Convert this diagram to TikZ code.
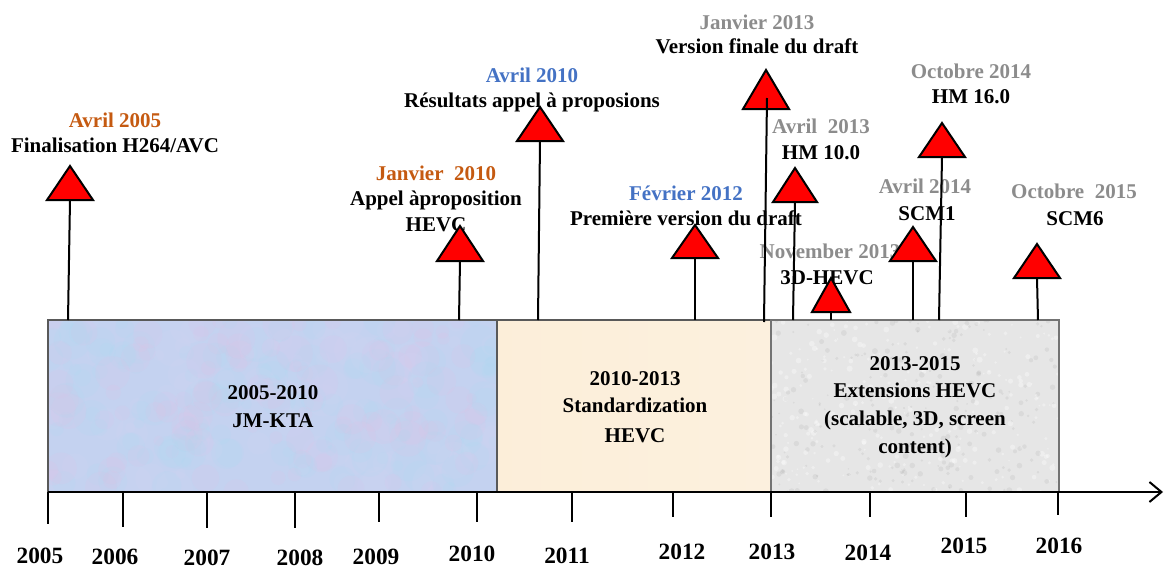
\documentclass[tikz,border=0pt]{standalone}
\usepackage{fontspec}
\setmainfont{Liberation Serif}
\usetikzlibrary{arrows.meta}
\definecolor{datebrown}{HTML}{C55A11}
\definecolor{dateblue}{HTML}{4472C4}
\definecolor{dategray}{HTML}{8C8C8C}
\definecolor{eraone}{RGB}{196,210,240}
\definecolor{eratwo}{RGB}{252,238,216}
\definecolor{erathree}{RGB}{230,230,230}
\definecolor{flagred}{HTML}{FF0000}
\begin{document}
\begin{tikzpicture}[x=0.75pt,y=-0.75pt,
  lbl/.style={font=\bfseries\fontsize{15.75}{18}\selectfont, anchor=base, inner sep=0pt},
  yearlbl/.style={font=\bfseries\fontsize{17.5}{20}\selectfont, anchor=base, inner sep=0pt},
  stem/.style={line width=1.5pt, black},
  tick/.style={line width=1.5pt, black},
  era/.style={draw=black!65, line width=0.8pt},
  flagstyle/.style={draw=black, line width=1.5pt, fill=flagred, line join=miter},
  pics/flag/.style args={#1/#2}{code={\path[flagstyle] (-#1,0) -- (0,-#2) -- (#1,0) -- cycle;}}
]
\useasboundingbox (0,0) rectangle (1165,568);

% ---- period boxes ----
\fill[eraone] (48,320) rectangle (497,492);
\begin{scope}
  \clip (48,320) rectangle (497,492);
  \pgfmathsetseed{11}
  \foreach \i in {1,...,320}{
    \pgfmathsetmacro\cx{48+449*rnd}
    \pgfmathsetmacro\cy{320+172*rnd}
    \pgfmathsetmacro\rr{5+14*rnd}
    \pgfmathsetmacro\kind{rnd}
    \ifdim\kind pt<0.3pt
      \fill[fill={rgb,255:red,232;green,190;blue,228}, opacity=0.13] (\cx,\cy) circle[radius=\rr];
    \else\ifdim\kind pt<0.65pt
      \fill[fill={rgb,255:red,170;green,220;blue,242}, opacity=0.13] (\cx,\cy) circle[radius=\rr];
    \else
      \fill[fill={rgb,255:red,214;green,214;blue,246}, opacity=0.13] (\cx,\cy) circle[radius=\rr];
    \fi\fi
  }
\end{scope}
\draw[era] (48,320) rectangle (497,492);

\shade[left color=eratwo!100!orange!90, right color=eratwo!60!white] (497,320) rectangle (771,492);
\fill[eratwo, opacity=0.6] (497,320) rectangle (771,492);
\draw[era] (497,320) rectangle (771,492);

\fill[erathree] (771,320) rectangle (1059,492);
\begin{scope}
  \clip (771,320) rectangle (1059,492);
  \pgfmathsetseed{23}
  \foreach \i in {1,...,500}{
    \pgfmathsetmacro\cx{771+288*rnd}
    \pgfmathsetmacro\cy{320+172*rnd}
    \pgfmathsetmacro\rr{0.8+2.2*rnd}
    \pgfmathsetmacro\kind{rnd}
    \ifdim\kind pt<0.5pt
      \fill[black, opacity=0.05] (\cx,\cy) circle[radius=\rr];
    \else
      \fill[white, opacity=0.35] (\cx,\cy) circle[radius=\rr];
    \fi
  }
\end{scope}
\draw[era, draw=black!55] (771,320) rectangle (1059,492);

% ---- texts inside the boxes ----
\node[lbl] (p1a) at (273,399) {2005-2010};
\node[lbl] (p1b) at (273,427) {JM-KTA};
\node[lbl] (p2a) at (635,385) {2010-2013};
\node[lbl] (p2b) at (635,412) {Standardization};
\node[lbl] (p2c) at (635,442) {HEVC};
\node[lbl] (p3a) at (915,370) {2013-2015};
\node[lbl] (p3b) at (915,397) {Extensions HEVC};
\node[lbl] (p3c) at (915,425) {(scalable, 3D, screen};
\node[lbl] (p3d) at (915,453) {content)};

% ---- time axis ----
\coordinate (axS) at (48,492);
\coordinate (axE) at (1163,492);
\draw[line width=2.2pt, -{Straight Barb[length=9pt,width=15pt,line width=1.5pt]}] (axS) -- (axE);

\foreach \x/\e [count=\k] in {48/524,123/527,207/528,295/528,379/522,477/522,572/522,673/517,771/517,870/517,966/517,1058/515}{
  \coordinate (tk\k) at (\x,492);
  \coordinate (te\k) at (\x,\e);
  \draw[tick] (tk\k) -- (te\k);
}

% ---- year labels ----
\node[yearlbl] (y2005) at (40,563) {2005};
\node[yearlbl] (y2006) at (115,564) {2006};
\node[yearlbl] (y2007) at (207,565) {2007};
\node[yearlbl] (y2008) at (300,565) {2008};
\node[yearlbl] (y2009) at (376,564) {2009};
\node[yearlbl] (y2010) at (472,561) {2010};
\node[yearlbl] (y2011) at (567,563) {2011};
\node[yearlbl] (y2012) at (682,559) {2012};
\node[yearlbl] (y2013) at (772,559) {2013};
\node[yearlbl] (y2014) at (868,560) {2014};
\node[yearlbl] (y2015) at (964,553) {2015};
\node[yearlbl] (y2016) at (1059,553) {2016};

% ---- milestone captions ----
\node[lbl, text=datebrown] (d1) at (115,127) {Avril 2005};
\node[lbl] (m1) at (115,152) {Finalisation H264/AVC};

\node[lbl, text=datebrown] (d2) at (436,180) {Janvier\ \ 2010};
\node[lbl] (m2a) at (436,205) {Appel àproposition};
\node[lbl] (m2b) at (436,231) {HEVC};

\node[lbl, text=dateblue] (d3) at (532,82) {Avril 2010};
\node[lbl] (m3) at (532,107) {Résultats appel à proposions};

\node[lbl, text=dateblue] (d4) at (686,200) {Février 2012};
\node[lbl] (m4) at (686,225) {Première version du draft};

\node[lbl, text=dategray] (d5) at (757,29) {Janvier 2013};
\node[lbl] (m5) at (757,53) {Version finale du draft};

\node[lbl, text=dategray] (d6) at (821,133) {Avril\ \ 2013};
\node[lbl] (m6) at (821,159) {HM 10.0};

\node[lbl, text=dategray] (d7) at (830,258) {November 2013};
\node[lbl] (m7) at (827,284) {3D-HEVC};

\node[lbl, text=dategray] (d8) at (971,78) {Octobre 2014};
\node[lbl] (m8) at (971,103) {HM 16.0};

\node[lbl, text=dategray] (d9) at (925,193) {Avril 2014};
\node[lbl] (m9) at (927,220) {SCM1};

\node[lbl, text=dategray] (d10) at (1074,198) {Octobre\ \ 2015};
\node[lbl] (m10) at (1075,225) {SCM6};

% ---- stems from the flags down to the boxes ----
\coordinate (f1) at (70,200);   \coordinate (g1) at (68,320);
\coordinate (f2) at (460,261);  \coordinate (g2) at (459,320);
\coordinate (f3) at (540,141);  \coordinate (g3) at (538,320);
\coordinate (f4) at (695,258);  \coordinate (g4) at (695,320);
\coordinate (f5) at (766,109);  \coordinate (g5) at (764,322);
\coordinate (f6) at (795,202);  \coordinate (g6) at (793,320);
\coordinate (f7) at (831,312);  \coordinate (g7) at (831,320);
\coordinate (f8) at (942,157);  \coordinate (g8) at (939,320);
\coordinate (f9) at (913,261);  \coordinate (g9) at (913,320);
\coordinate (f10) at (1037,278); \coordinate (g10) at (1038,320);
\foreach \k in {1,2,3,4,6,7,8,9,10}{ \draw[stem] (f\k) -- (g\k); }

% ---- flags ----
\pic at (f1) {flag=23/34};
\pic at (f2) {flag=23/35};
\pic at (f3) {flag=23/34};
\pic at (f4) {flag=23/33};
\pic at (f5) {flag=23/39};
\pic at (f6) {flag=22/34};
\pic at (f7) {flag=19/34};
\pic at (f8) {flag=23/34};
\pic at (f9) {flag=23/34};
\pic at (f10) {flag=23/34};

% the stem of this flag runs up into the triangle
\coordinate (h5) at (767,98);
\draw[stem] (h5) -- (g5);
\end{tikzpicture}
\end{document}
